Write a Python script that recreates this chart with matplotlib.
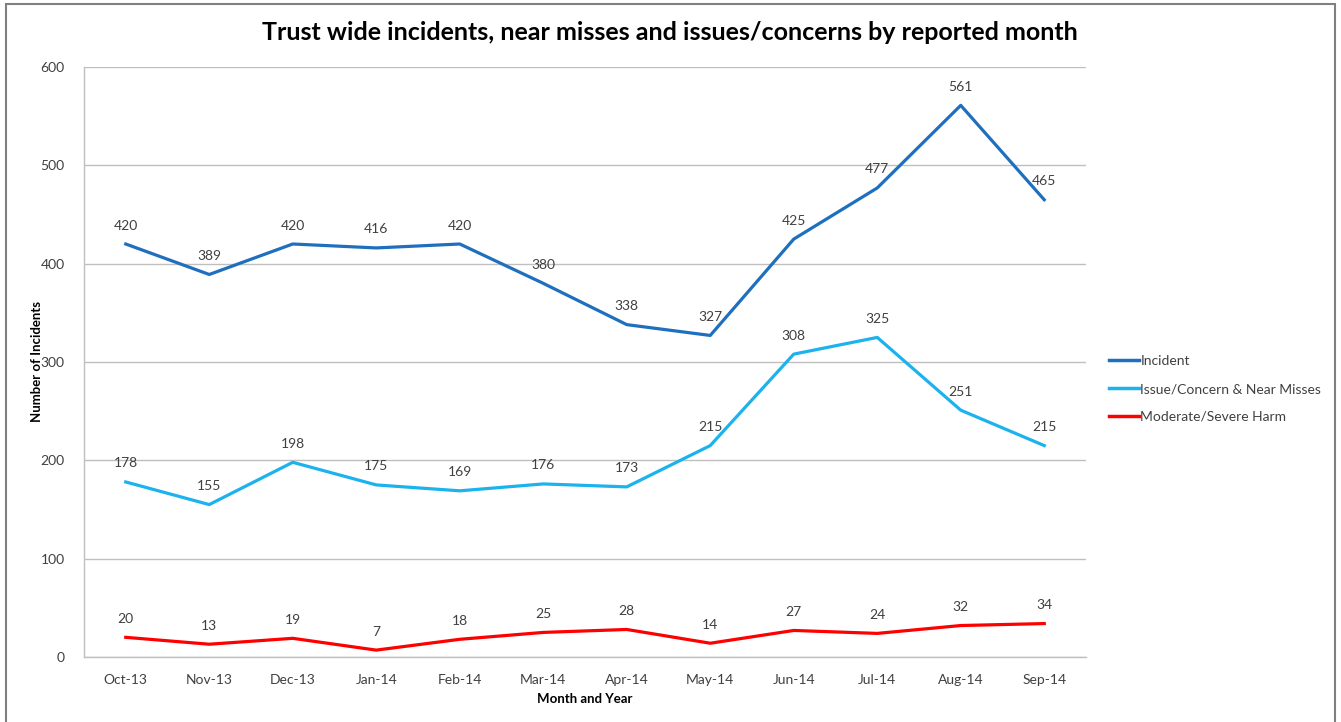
import matplotlib
matplotlib.use("Agg")
import matplotlib.pyplot as plt
from matplotlib.patches import Rectangle
from matplotlib.lines import Line2D

months = ["Oct-13", "Nov-13", "Dec-13", "Jan-14", "Feb-14", "Mar-14",
          "Apr-14", "May-14", "Jun-14", "Jul-14", "Aug-14", "Sep-14"]
incident = [420, 389, 420, 416, 420, 380, 338, 327, 425, 477, 561, 465]
issue_near = [178, 155, 198, 175, 169, 176, 173, 215, 308, 325, 251, 215]
harm = [20, 13, 19, 7, 18, 25, 28, 14, 27, 24, 32, 34]
yticks = [0, 100, 200, 300, 400, 500, 600]

series = [
    ("Incident", incident, "#1F6FBF"),
    ("Issue/Concern & Near Misses", issue_near, "#1CB2EE"),
    ("Moderate/Severe Harm", harm, "#FF0000"),
]

plt.rcParams['font.family'] = ['Lato', 'DejaVu Sans']
txt = "#404040"

fig = plt.figure(figsize=(13.41, 7.22), dpi=100)
ax = fig.add_axes([84/1341, 1-657/722, (1086-84)/1341, (657-67)/722])

x = list(range(len(months)))
for name, vals, col in series:
    ax.plot(x, vals, color=col, lw=2.3, label=name, solid_joinstyle='round')
    for xi, v in zip(x, vals):
        ax.annotate(str(v), (xi, v), xytext=(0, 9), textcoords='offset points',
                    ha='center', va='bottom', fontsize=10, color=txt)

ax.set_xlim(-0.5, len(months) - 0.5)
ax.set_ylim(0, 600)
ax.set_yticks(yticks)
ax.set_xticks(x)
ax.set_xticklabels(months)
ax.tick_params(axis='both', length=0, labelsize=10, colors=txt)
ax.tick_params(axis='x', pad=12)
ax.tick_params(axis='y', pad=14)
ax.grid(axis='y', color='#BFBFBF', lw=1)
ax.set_axisbelow(True)
for s in ['top', 'right']:
    ax.spines[s].set_visible(False)
for s in ['left', 'bottom']:
    ax.spines[s].set_color('#BFBFBF')
    ax.spines[s].set_linewidth(1)

ax.set_xlabel("Month and Year", fontsize=9.5, fontweight='bold', color='black', labelpad=5)
ax.set_ylabel("Number of Incidents", fontsize=9.5, fontweight='bold', color='black')
ax.yaxis.set_label_coords((43 - 84) / (1086 - 84), 0.5)

fig.text(670/1341, 1-33/722, "Trust wide incidents, near misses and issues/concerns by reported month",
         ha='center', va='center', fontsize=18, fontweight='bold', color='black')

handles = [Line2D([0], [0], color=c, lw=2.5) for _, _, c in series]
labels = [n for n, _, _ in series]
fig.legend(handles, labels, loc='center left', bbox_to_anchor=(1096/1341, 1-389/722),
           frameon=False, fontsize=10, handlelength=2.2, handletextpad=0.1,
           labelspacing=1.15, labelcolor=txt)

fig.patches.append(Rectangle((6/1341, -0.01), (1335-6)/1341, 1-4/722+0.01,
                             transform=fig.transFigure, fill=False,
                             edgecolor='#808080', lw=1.5))

fig.savefig("out.png", dpi=100)
